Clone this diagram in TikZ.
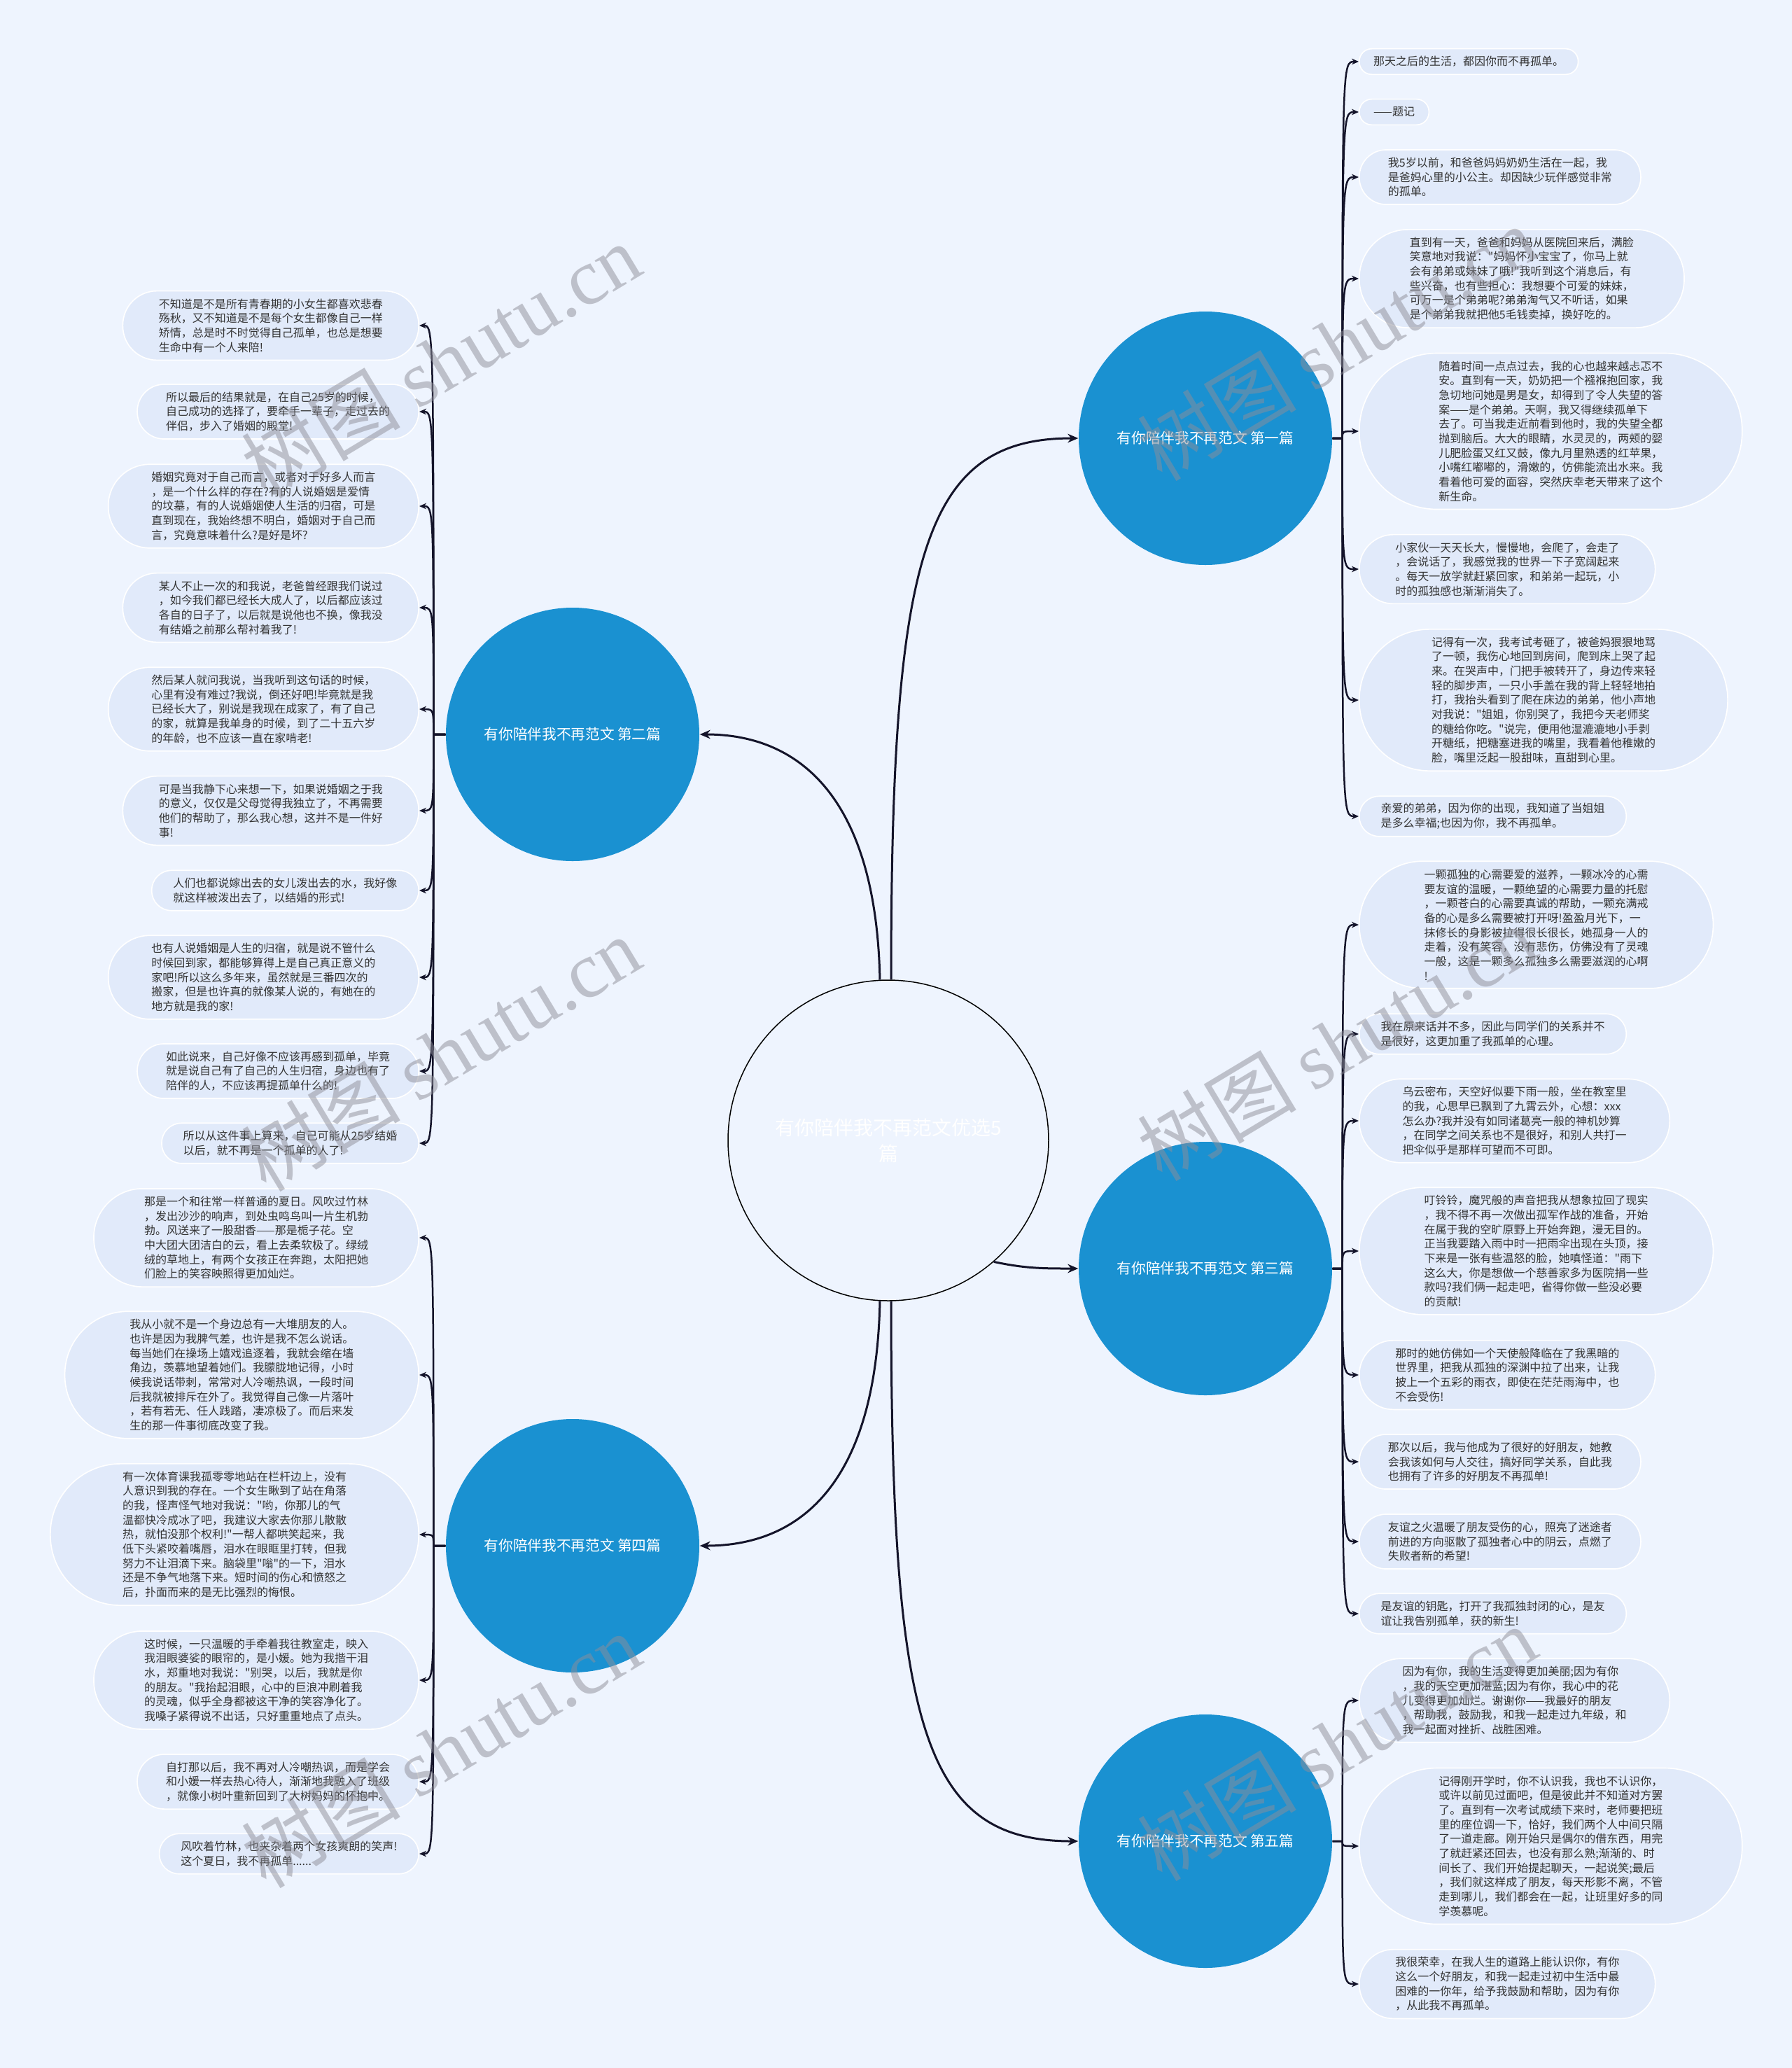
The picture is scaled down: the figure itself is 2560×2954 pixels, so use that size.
\documentclass[tikz,border=0pt]{standalone}
\usepackage{fontspec}
\setmainfont{Noto Sans CJK SC}[Ligatures=TeXOff]
\newfontfamily\wmlatin{Liberation Serif}
\usetikzlibrary{arrows.meta}
\definecolor{bgc}{HTML}{EEF4FE}
\definecolor{leafc}{HTML}{E1EAFA}
\definecolor{branchc}{HTML}{1A91D1}
\definecolor{txtc}{HTML}{333333}
\definecolor{edgec}{HTML}{14142A}
\definecolor{wmc}{HTML}{8E8E98}
\newcommand\leaffont{\fontsize{4.8pt}{6.2pt}\selectfont}
\newcommand\EdgeR[2]{\draw[ledge] (#1.east) -- ++(14,0) coordinate (tmp) .. controls (tmp |- #2.west) and (tmp |- #2.west) .. (#2.west);}
\newcommand\EdgeL[2]{\draw[ledge] (#1.west) -- ++(-17,0) coordinate (tmp) .. controls (tmp |- #2.east) and (tmp |- #2.east) .. (#2.east);}
% #1 anchor, #2 name, #3 x, #4 y, #5 number of lines, #6 text
\newcommand\Leaf[6]{\pgfmathsetmacro\lh{(16+20.7*#5)*0.3}\pgfmathsetmacro\lr{\lh/2-0.15}\pgfmathsetmacro\lx{\lh/2+0.6}%
  \node[leaf, anchor=#1, minimum height=\lh pt, rounded corners=\lr pt, inner xsep=\lx pt] (#2) at (#3,#4) {#6};}
\begin{document}
\begin{tikzpicture}[x=0.3pt,y=-0.3pt,
  leaf/.style={rectangle, fill=leafc, draw=white, line width=0.5pt, text=txtc, font=\leaffont, align=left, inner ysep=0pt},
  branch/.style={circle, fill=branchc, minimum size=108.6pt, inner sep=0pt, text=white, font=\fontsize{6.2pt}{7.5pt}\selectfont},
  root/.style={circle, draw=black, line width=0.45pt, fill=bgc, minimum size=137.4pt, inner sep=0pt, text=white, align=center, font=\fontsize{8.4pt}{11pt}\selectfont},
  mainedge/.style={draw=edgec, line width=0.9pt, -{Stealth[length=4.5pt,width=3.8pt]}},
  ledge/.style={draw=edgec, line width=0.75pt, -{Stealth[length=3pt,width=2.6pt]}},
  wm/.style={text=wmc, opacity=0.5, rotate=31, inner sep=0pt, font=\fontsize{34pt}{34pt}\selectfont}
]
\useasboundingbox (0,0) rectangle (2560,2954);
\fill[bgc] (0,0) rectangle (2560,2954);

% root and branches
\node[root] (c) at (1269,1629) {有你陪伴我不再范文优选5\\篇};
\node[branch] (b1) at (1722,626) {有你陪伴我不再范文 第一篇};
\node[branch] (b2) at (818,1049) {有你陪伴我不再范文 第二篇};
\node[branch] (b3) at (1722,1812) {有你陪伴我不再范文 第三篇};
\node[branch] (b4) at (818,2208) {有你陪伴我不再范文 第四篇};
\node[branch] (b5) at (1722,2630) {有你陪伴我不再范文 第五篇};

% branch 1 leaves
\Leaf{west}{r11}{1941}{88}{1}{那天之后的生活，都因你而不再孤单。}
\Leaf{west}{r12}{1941}{160}{1}{——题记}
\Leaf{west}{r13}{1941}{253}{3}{我5岁以前，和爸爸妈妈奶奶生活在一起，我\\是爸妈心里的小公主。却因缺少玩伴感觉非常\\的孤单。}
\Leaf{west}{r14}{1941}{398}{6}{直到有一天，爸爸和妈妈从医院回来后，满脸\\笑意地对我说："妈妈怀小宝宝了，你马上就\\会有弟弟或妹妹了哦!"我听到这个消息后，有\\些兴奋，也有些担心：我想要个可爱的妹妹，\\可万一是个弟弟呢?弟弟淘气又不听话，如果\\是个弟弟我就把他5毛钱卖掉，换好吃的。}
\Leaf{west}{r15}{1941}{616}{10}{随着时间一点点过去，我的心也越来越忐忑不\\安。直到有一天，奶奶把一个襁褓抱回家，我\\急切地问她是男是女，却得到了令人失望的答\\案——是个弟弟。天啊，我又得继续孤单下\\去了。可当我走近前看到他时，我的失望全都\\抛到脑后。大大的眼睛，水灵灵的，两颊的婴\\儿肥脸蛋又红又鼓，像九月里熟透的红苹果，\\小嘴红嘟嘟的，滑嫩的，仿佛能流出水来。我\\看着他可爱的面容，突然庆幸老天带来了这个\\新生命。}
\Leaf{west}{r16}{1941}{813}{4}{小家伙一天天长大，慢慢地，会爬了，会走了\\，会说话了，我感觉我的世界一下子宽阔起来\\。每天一放学就赶紧回家，和弟弟一起玩，小\\时的孤独感也渐渐消失了。}
\Leaf{west}{r17}{1941}{1000}{9}{记得有一次，我考试考砸了，被爸妈狠狠地骂\\了一顿，我伤心地回到房间，爬到床上哭了起\\来。在哭声中，门把手被转开了，身边传来轻\\轻的脚步声，一只小手盖在我的背上轻轻地拍\\打，我抬头看到了爬在床边的弟弟，他小声地\\对我说："姐姐，你别哭了，我把今天老师奖\\的糖给你吃。"说完，便用他湿漉漉地小手剥\\开糖纸，把糖塞进我的嘴里，我看着他稚嫩的\\脸，嘴里泛起一股甜味，直甜到心里。}
\Leaf{west}{r18}{1941}{1166}{2}{亲爱的弟弟，因为你的出现，我知道了当姐姐\\是多么幸福;也因为你，我不再孤单。}

% branch 3 leaves
\Leaf{west}{r31}{1941}{1321}{8}{一颗孤独的心需要爱的滋养，一颗冰冷的心需\\要友谊的温暖，一颗绝望的心需要力量的托慰\\，一颗苍白的心需要真诚的帮助，一颗充满戒\\备的心是多么需要被打开呀!盈盈月光下，一\\抹修长的身影被拉得很长很长，她孤身一人的\\走着，没有笑容，没有悲伤，仿佛没有了灵魂\\一般，这是一颗多么孤独多么需要滋润的心啊\\!}
\Leaf{west}{r32}{1941}{1477}{2}{我在原来话并不多，因此与同学们的关系并不\\是很好，这更加重了我孤单的心理。}
\Leaf{west}{r33}{1941}{1601}{5}{乌云密布，天空好似要下雨一般，坐在教室里\\的我，心思早已飘到了九霄云外，心想：xxx\\怎么办?我并没有如同诸葛亮一般的神机妙算\\，在同学之间关系也不是很好，和别人共打一\\把伞似乎是那样可望而不可即。}
\Leaf{west}{r34}{1941}{1787}{8}{叮铃铃，魔咒般的声音把我从想象拉回了现实\\，我不得不再一次做出孤军作战的准备，开始\\在属于我的空旷原野上开始奔跑，漫无目的。\\正当我要踏入雨中时一把雨伞出现在头顶，接\\下来是一张有些温怒的脸，她嗔怪道："雨下\\这么大，你是想做一个慈善家多为医院捐一些\\款吗?我们俩一起走吧，省得你做一些没必要\\的贡献!}
\Leaf{west}{r35}{1941}{1964}{4}{那时的她仿佛如一个天使般降临在了我黑暗的\\世界里，把我从孤独的深渊中拉了出来，让我\\披上一个五彩的雨衣，即使在茫茫雨海中，也\\不会受伤!}
\Leaf{west}{r36}{1941}{2088}{3}{那次以后，我与他成为了很好的好朋友，她教\\会我该如何与人交往，搞好同学关系，自此我\\也拥有了许多的好朋友不再孤单!}
\Leaf{west}{r37}{1941}{2202}{3}{友谊之火温暖了朋友受伤的心，照亮了迷途者\\前进的方向驱散了孤独者心中的阴云，点燃了\\失败者新的希望!}
\Leaf{west}{r38}{1941}{2305}{2}{是友谊的钥匙，打开了我孤独封闭的心，是友\\谊让我告别孤单，获的新生!}

% branch 5 leaves
\Leaf{west}{r51}{1941}{2429}{5}{因为有你，我的生活变得更加美丽;因为有你\\，我的天空更加湛蓝;因为有你，我心中的花\\儿变得更加灿烂。谢谢你——我最好的朋友\\，帮助我，鼓励我，和我一起走过九年级，和\\我一起面对挫折、战胜困难。}
\Leaf{west}{r52}{1941}{2637}{10}{记得刚开学时，你不认识我，我也不认识你，\\或许以前见过面吧，但是彼此并不知道对方罢\\了。直到有一次考试成绩下来时，老师要把班\\里的座位调一下，恰好，我们两个人中间只隔\\了一道走廊。刚开始只是偶尔的借东西，用完\\了就赶紧还回去，也没有那么熟;渐渐的、时\\间长了、我们开始提起聊天，一起说笑;最后\\，我们就这样成了朋友，每天形影不离，不管\\走到哪儿，我们都会在一起，让班里好多的同\\学羡慕呢。}
\Leaf{west}{r53}{1941}{2834}{4}{我很荣幸，在我人生的道路上能认识你，有你\\这么一个好朋友，和我一起走过初中生活中最\\困难的一你年，给予我鼓励和帮助，因为有你\\，从此我不再孤单。}

% branch 2 leaves
\Leaf{east}{l21}{599}{465}{4}{不知道是不是所有青春期的小女生都喜欢悲春\\殇秋，又不知道是不是每个女生都像自己一样\\矫情，总是时不时觉得自己孤单，也总是想要\\生命中有一个人来陪!}
\Leaf{east}{l22}{599}{588}{3}{所以最后的结果就是，在自己25岁的时候，\\自己成功的选择了，要牵手一辈子，走过去的\\伴侣，步入了婚姻的殿堂!}
\Leaf{east}{l23}{599}{723}{5}{婚姻究竟对于自己而言，或者对于好多人而言\\，是一个什么样的存在?有的人说婚姻是爱情\\的坟墓，有的人说婚姻使人生活的归宿，可是\\直到现在，我始终想不明白，婚姻对于自己而\\言，究竟意味着什么?是好是坏?}
\Leaf{east}{l24}{599}{868}{4}{某人不止一次的和我说，老爸曾经跟我们说过\\，如今我们都已经长大成人了，以后都应该过\\各自的日子了，以后就是说他也不换，像我没\\有结婚之前那么帮衬着我了!}
\Leaf{east}{l25}{599}{1013}{5}{然后某人就问我说，当我听到这句话的时候，\\心里有没有难过?我说，倒还好吧!毕竟就是我\\已经长大了，别说是我现在成家了，有了自己\\的家，就算是我单身的时候，到了二十五六岁\\的年龄，也不应该一直在家啃老!}
\Leaf{east}{l26}{599}{1158}{4}{可是当我静下心来想一下，如果说婚姻之于我\\的意义，仅仅是父母觉得我独立了，不再需要\\他们的帮助了，那么我心想，这并不是一件好\\事!}
\Leaf{east}{l27}{599}{1272}{2}{人们也都说嫁出去的女儿泼出去的水，我好像\\就这样被泼出去了，以结婚的形式!}
\Leaf{east}{l28}{599}{1396}{5}{也有人说婚姻是人生的归宿，就是说不管什么\\时候回到家，都能够算得上是自己真正意义的\\家吧!所以这么多年来，虽然就是三番四次的\\搬家，但是也许真的就像某人说的，有她在的\\地方就是我的家!}
\Leaf{east}{l29}{599}{1530}{3}{如此说来，自己好像不应该再感到孤单，毕竟\\就是说自己有了自己的人生归宿，身边也有了\\陪伴的人，不应该再提孤单什么的!}
\Leaf{east}{l210}{599}{1633}{2}{所以从这件事上算来，自己可能从25岁结婚\\以后，就不再是一个孤单的人了!}

% branch 4 leaves
\Leaf{east}{l41}{599}{1768}{6}{那是一个和往常一样普通的夏日。风吹过竹林\\，发出沙沙的响声，到处虫鸣鸟叫一片生机勃\\勃。风送来了一股甜香——那是栀子花。空\\中大团大团洁白的云，看上去柔软极了。绿绒\\绒的草地上，有两个女孩正在奔跑，太阳把她\\们脸上的笑容映照得更加灿烂。}
\Leaf{east}{l42}{599}{1964}{8}{我从小就不是一个身边总有一大堆朋友的人。\\也许是因为我脾气差，也许是我不怎么说话。\\每当她们在操场上嬉戏追逐着，我就会缩在墙\\角边，羡慕地望着她们。我朦胧地记得，小时\\候我说话带刺，常常对人冷嘲热讽，一段时间\\后我就被排斥在外了。我觉得自己像一片落叶\\，若有若无、任人践踏，凄凉极了。而后来发\\生的那一件事彻底改变了我。}
\Leaf{east}{l43}{599}{2192}{9}{有一次体育课我孤零零地站在栏杆边上，没有\\人意识到我的存在。一个女生瞅到了站在角落\\的我，怪声怪气地对我说："哟，你那儿的气\\温都快冷成冰了吧，我建议大家去你那儿散散\\热，就怕没那个权利!"一帮人都哄笑起来，我\\低下头紧咬着嘴唇，泪水在眼眶里打转，但我\\努力不让泪滴下来。脑袋里"嗡"的一下，泪水\\还是不争气地落下来。短时间的伤心和愤怒之\\后，扑面而来的是无比强烈的悔恨。}
\Leaf{east}{l44}{599}{2400}{6}{这时候，一只温暖的手牵着我往教室走，映入\\我泪眼婆娑的眼帘的，是小媛。她为我揩干泪\\水，郑重地对我说："别哭，以后，我就是你\\的朋友。"我抬起泪眼，心中的巨浪冲刷着我\\的灵魂，似乎全身都被这干净的笑容净化了。\\我嗓子紧得说不出话，只好重重地点了点头。}
\Leaf{east}{l45}{599}{2545}{3}{自打那以后，我不再对人冷嘲热讽，而是学会\\和小媛一样去热心待人，渐渐地我融入了班级\\，就像小树叶重新回到了大树妈妈的怀抱中。}
\Leaf{east}{l46}{599}{2648}{2}{风吹着竹林，也夹杂着两个女孩爽朗的笑声!\\这个夏日，我不再孤单......}

% main connectors
\draw[mainedge] (c.89) .. controls (1273,790) and (1320,626) .. (b1.west);
\draw[mainedge] (c.93) .. controls (1252,1150) and (1150,1049) .. (b2.east);
\draw[mainedge] (c.-49) .. controls (1465,1812) and (1490,1812) .. (b3.west);
\draw[mainedge] (c.-93) .. controls (1252,2110) and (1150,2208) .. (b4.east);
\draw[mainedge] (c.-89) .. controls (1273,2470) and (1320,2630) .. (b5.west);

% leaf connectors
\foreach \n in {r11,r12,r13,r14,r15,r16,r17,r18} {\EdgeR{b1}{\n}}
\foreach \n in {r31,r32,r33,r34,r35,r36,r37,r38} {\EdgeR{b3}{\n}}
\foreach \n in {r51,r52,r53} {\EdgeR{b5}{\n}}
\foreach \n in {l21,l22,l23,l24,l25,l26,l27,l28,l29,l210} {\EdgeL{b2}{\n}}
\foreach \n in {l41,l42,l43,l44,l45,l46} {\EdgeL{b4}{\n}}

% watermarks
\node[wm] (w1) at (630,515) {树图 {\wmlatin shutu.cn}};
\node[wm] (w2) at (630,1505) {树图 {\wmlatin shutu.cn}};
\node[wm] (w3) at (630,2500) {树图 {\wmlatin shutu.cn}};
\node[wm] (w4) at (1910,490) {树图 {\wmlatin shutu.cn}};
\node[wm] (w5) at (1910,1490) {树图 {\wmlatin shutu.cn}};
\node[wm] (w6) at (1910,2490) {树图 {\wmlatin shutu.cn}};
\end{tikzpicture}
\end{document}
